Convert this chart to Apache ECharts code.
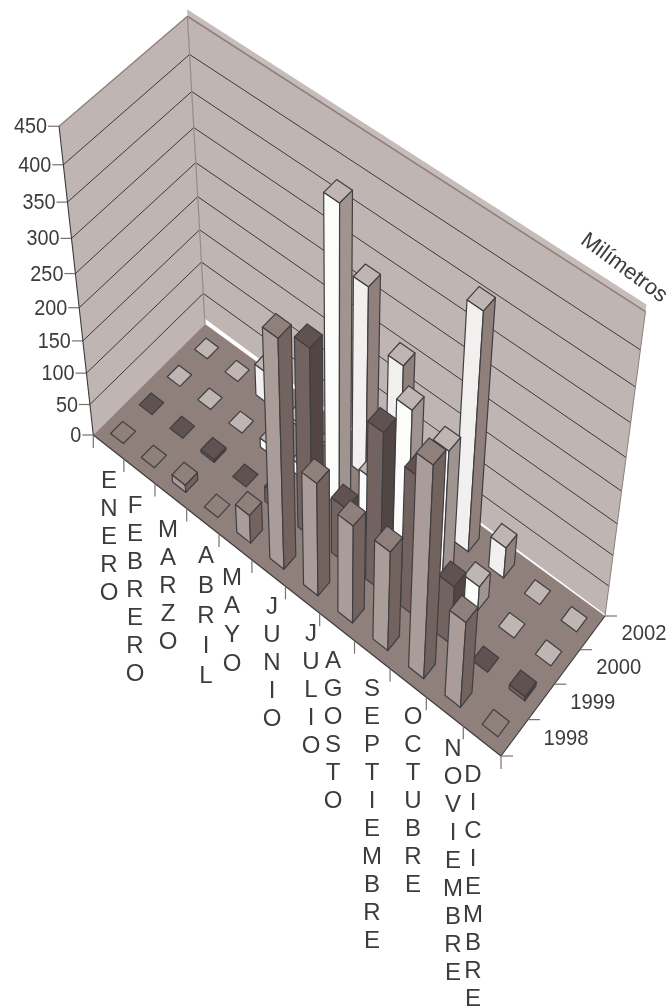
<!DOCTYPE html>
<html><head><meta charset="utf-8">
<style>html,body{margin:0;padding:0;background:#fff}#c{width:672px;height:1007px}</style>
<script src="https://cdn.jsdelivr.net/npm/echarts@6/dist/echarts.min.js"></script>
</head><body><div id="c"></div>
<script>
var months = ['ENERO','FEBRERO','MARZO','ABRIL','MAYO','JUNIO','JULIO','AGOSTO','SEPTIEMBRE','OCTUBRE','NOVIEMBRE','DICIEMBRE'];
var years = ['1998','1999','2000','2002'];
var valueTicks = [0,50,100,150,200,250,300,350,400,450];
var v1998 = [0,0,12,0,46,350,180,157,160,330,140,0];
var v1999 = [0,0,4,0,25,292,90,247,220,95,0,7];
var v2000 = [0,0,0,15,20,445,85,232,211,40,0,0];
var v2002 = [0,0,50,5,5,291,213,5,364,50,0,0];
var seriesValues = [v1998,v1999,v2000,v2002];

// layout
var faceColors = [
  {top:'#8f807c',front:'#a99c99',side:'#73635f'},
  {top:'#5f5250',front:'#736360',side:'#524645'},
  {top:'#bfb5b2',front:'#fcfcfa',side:'#a09490'},
  {top:'#bfb5b2',front:'#f2f0ee',side:'#8f807c'}
];
var labelX = [109,135,168,206,232,272,311,333,372,413,453,473];
var labelY = [480,505,529,555,577,606,633,660,688,716,748,774];
var labelStep = [28,28,28,30,28.7,28,28,28,28,28,28,28];
var barW = 0.42, FONT='"Liberation Sans",Arial,sans-serif', INK='#3b3b40';
var nx = 12, ny = 4, zMax = 450;

function solve(A,b){var n=b.length,M=A.map(function(r,i){return r.concat([b[i]])});
  for(var c=0;c<n;c++){var p=c;for(var r=c+1;r<n;r++)if(Math.abs(M[r][c])>Math.abs(M[p][c]))p=r;
    var t=M[c];M[c]=M[p];M[p]=t;
    for(r=0;r<n;r++)if(r!==c){var f=M[r][c]/M[c][c];for(var k=c;k<=n;k++)M[r][k]-=f*M[c][k];}}
  return M.map(function(r,i){return r[n]/r[i]});}
// floor corners (grid x,y) -> pixels
var floorPts=[[0,0,93.3,435],[0,ny,205,324],[nx,ny,605,616],[nx,0,501,756]];
var A8=[],b8=[];
floorPts.forEach(function(p){var x=p[0],y=p[1],u=p[2],v=p[3];
  A8.push([x,y,1,0,0,0,-u*x,-u*y]);b8.push(u);
  A8.push([0,0,0,x,y,1,-v*x,-v*y]);b8.push(v);});
var h=solve(A8,b8);
// vertical direction from the three wall-top corners
var topPts=[[0,0,59,128],[0,ny,187,16],[nx,ny,646,310]];
var rows=[],rhs=[];
topPts.forEach(function(p){var X=h[0]*p[0]+h[1]*p[1]+h[2],Y=h[3]*p[0]+h[4]*p[1]+h[5],W=h[6]*p[0]+h[7]*p[1]+1;
  rows.push([1,0,-p[2]]);rhs.push(p[2]*W-X);
  rows.push([0,1,-p[3]]);rhs.push(p[3]*W-Y);});
var N=[[0,0,0],[0,0,0],[0,0,0]],nb=[0,0,0];
rows.forEach(function(r,k){for(var i=0;i<3;i++){nb[i]+=r[i]*rhs[k];for(var j=0;j<3;j++)N[i][j]+=r[i]*r[j];}});
var zc=solve(N,nb);
function P(x,y,z){var t=z/zMax,w=h[6]*x+h[7]*y+1+zc[2]*t;
  return [(h[0]*x+h[1]*y+h[2]+zc[0]*t)/w,(h[3]*x+h[4]*y+h[5]+zc[1]*t)/w];}

function poly(pts,fill,stroke,lw){return {type:'polygon',shape:{points:pts},style:{fill:fill,stroke:stroke||null,lineWidth:lw||0,lineJoin:'round'}};}
function line(a,b,stroke,lw){return {type:'line',shape:{x1:a[0],y1:a[1],x2:b[0],y2:b[1]},style:{stroke:stroke,lineWidth:lw}};}
function txt(s,x,y,align,base,size,lh,sx){return {type:'text',x:x,y:y,scaleX:sx||1,style:{text:s,x:0,y:0,fill:INK,font:size+'px '+FONT,align:align,verticalAlign:base,lineHeight:lh||size}};}

function renderScene(){
  var c=[],z0=9;
  c.push(poly([P(0,ny,zMax),P(nx,ny,zMax),P(nx,ny,zMax+9),P(0,ny,zMax+9)],'#c6bcb9'));
  c.push(poly([P(0,0,0),P(0,ny,0),P(0,ny,zMax),P(0,0,zMax)],'#bfb5b2'));
  c.push(poly([P(0,ny,0),P(nx,ny,0),P(nx,ny,zMax),P(0,ny,zMax)],'#bfb5b2'));
  c.push(poly([P(0,ny,0),P(nx,ny,0),P(nx,ny,z0*0.3),P(0,ny,z0)],'#ffffff'));
  c.push(poly([P(0,0,0),P(0,ny,0),P(nx,ny,0),P(nx,0,0)],'#8f807c'));
  valueTicks.forEach(function(v){
    if(v>0&&v<zMax){c.push(line(P(0,0,v),P(0,ny,v),'#3c3a3c',1));c.push(line(P(0,ny,v),P(nx,ny,v),'#3c3a3c',1));}
    var p=P(0,0,v);
    c.push(line([p[0]-11,p[1]],p,'#77716f',1.2));
    c.push(txt(String(v),p[0]-12,p[1]+1,'right','middle',22,22,0.9));
  });
  c.push(line(P(0,0,zMax),P(0,ny,zMax),'#8f807c',1.4));
  c.push(line(P(0,ny,zMax),P(nx,ny,zMax),'#8f807c',1.6));
  c.push(line(P(0,ny,0),P(0,ny,zMax),'#958a87',1.2));
  c.push(line(P(nx,ny,0),P(nx,ny,zMax),'#8f807c',1));
  c.push(line(P(0,0,0),P(0,0,zMax),'#3c3a3c',1.1));
  c.push(line(P(0,0,0),P(nx,0,0),'#3c3a3c',1.2));
  c.push(line(P(nx,0,0),P(nx,ny,0),'#3c3a3c',1.2));
  for(var i=0;i<=nx;i++){var q=P(i,0,0);c.push(line(q,[q[0],q[1]+13],'#77716f',1.2));}
  for(var j=0;j<=ny;j++){var s=P(nx,j,0);c.push(line(s,[s[0]+12,s[1]],'#77716f',1.2));}
  years.forEach(function(y,j){var m=P(nx,j+0.5,0);c.push(txt(y,m[0]+29,m[1]+1,'left','middle',22,22,0.92));});
  months.forEach(function(m,i){c.push(txt(m.split('').join('\n'),labelX[i],labelY[i]-labelStep[i]/2+1,'center','top',24,labelStep[i]));});
  var t=txt('Milímetros',624,268,'center','middle',22);t.rotation=-36.5*Math.PI/180;c.push(t);
  return {type:'group',children:c};
}
function renderBar(params,api){
  var i=api.value(0),j=api.value(1),v=api.value(2),col=faceColors[j];
  var a=i+0.5-barW/2,b=i+0.5+barW/2,d=j+0.5-barW/2,e=j+0.5+barW/2,E='#3f3e42',c=[];
  if(v>0){
    c.push(poly([P(a,d,0),P(b,d,0),P(b,d,v),P(a,d,v)],col.front,E,1.2));
    c.push(poly([P(b,d,0),P(b,e,0),P(b,e,v),P(b,d,v)],col.side,E,1.2));
  }
  c.push(poly([P(a,d,v),P(b,d,v),P(b,e,v),P(a,e,v)],col.top,E,1.2));
  return {type:'group',children:c};
}
var barData=[];
for(var jj=ny-1;jj>=0;jj--)for(var ii=0;ii<nx;ii++)barData.push([ii,jj,seriesValues[jj][ii]]);

echarts.init(document.getElementById('c'),null,{renderer:'canvas'}).setOption({
  animation:false,backgroundColor:'#ffffff',
  series:[
    {type:'custom',coordinateSystem:'none',silent:true,z:1,data:[[0]],renderItem:renderScene},
    {type:'custom',coordinateSystem:'none',silent:true,z:2,data:barData,dimensions:['month','year','mm'],renderItem:renderBar}
  ]
});
</script></body></html>
